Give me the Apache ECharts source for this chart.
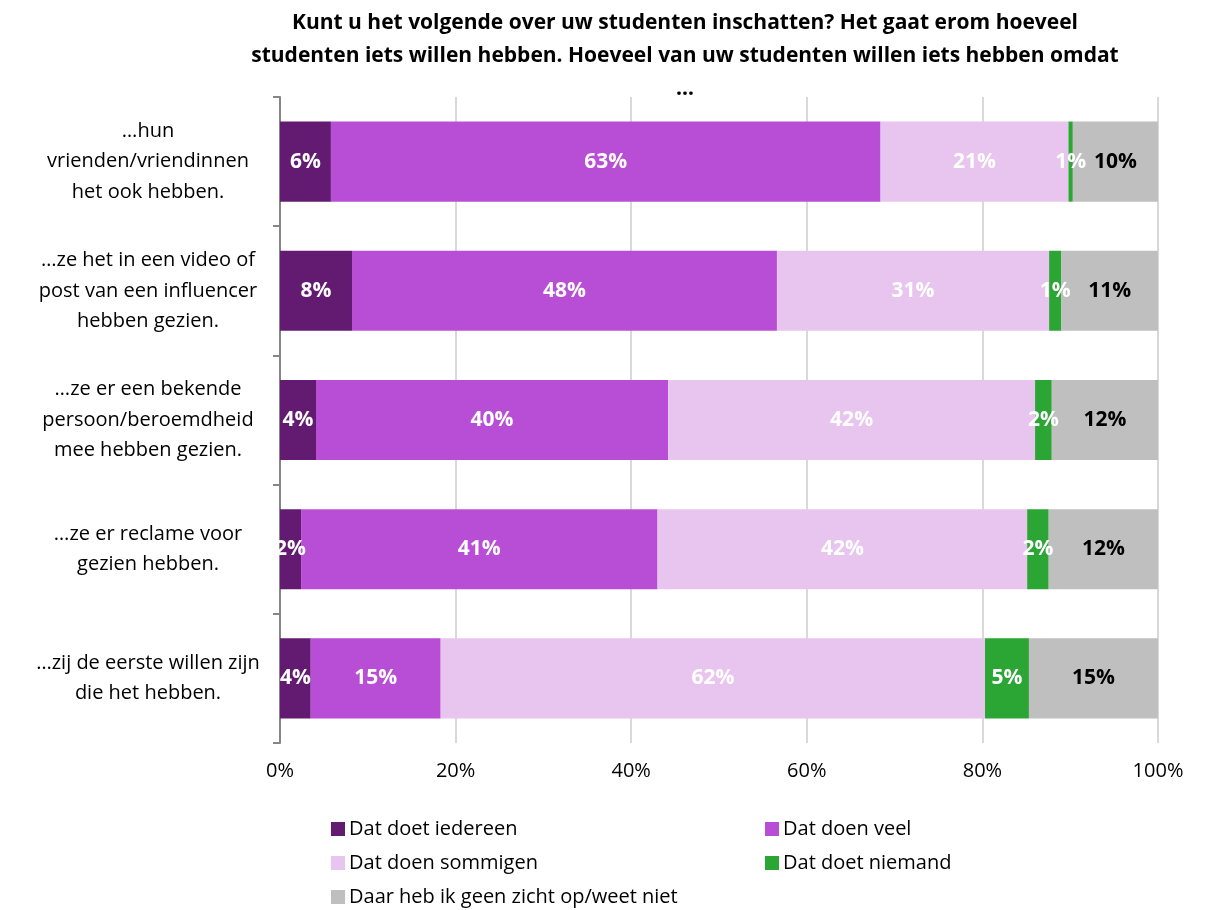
<!DOCTYPE html>
<html>
<head>
<meta charset="utf-8">
<script src="https://cdn.jsdelivr.net/npm/echarts@6/dist/echarts.min.js"></script>
<style>
  html, body { margin: 0; padding: 0; background: #fff; }
  #chart { width: 1209px; height: 910px; }
</style>
</head>
<body>
<div id="chart"></div>
<script>
// categories, top to bottom
var categories = [
  '…hun\nvrienden/vriendinnen\nhet ook hebben.',
  '…ze het in een video of\npost van een influencer\nhebben gezien.',
  '…ze er een bekende\npersoon/beroemdheid\nmee hebben gezien.',
  '…ze er reclame voor\ngezien hebben.',
  '…zij de eerste willen zijn\ndie het hebben.'
];

var seriesNames = [
  'Dat doet iedereen',
  'Dat doen veel',
  'Dat doen sommigen',
  'Dat doet niemand',
  'Daar heb ik geen zicht op/weet niet'
];

// percentages
var iedereen  = [5.8, 8.2, 4.1, 2.4, 3.5];
var veel      = [62.6, 48.4, 40.1, 40.6, 14.8];
var sommigen  = [21.4, 31.0, 41.8, 42.1, 62.0];
var niemand   = [0.5, 1.4, 1.9, 2.45, 5.0];
var weetNiet  = [9.7, 11.0, 12.1, 12.45, 14.7];

var xTicks = [0, 20, 40, 60, 80, 100];

var colors = ['#621B70', '#B94ED6', '#E8C5EF', '#2BA534', '#BFBFBF'];
var labelColors = ['#fff', '#fff', '#fff', '#fff', '#000'];
var font = '"Open Sans", "Noto Sans", sans-serif';

var chart = echarts.init(document.getElementById('chart'));

var allData = [iedereen, veel, sommigen, niemand, weetNiet];
var series = allData.map(function (d, i) {
  return {
    name: seriesNames[i],
    type: 'bar',
    stack: 'total',
    barWidth: '62%',
    data: d,
    itemStyle: { color: colors[i] },
    label: {
      show: true,
      position: 'inside',
      color: labelColors[i],
      fontFamily: font,
      fontWeight: 'bold',
      fontSize: 21,
      textBorderWidth: 0,
      formatter: function (p) { return Math.round(p.value) + '%'; }
    },
    emphasis: { disabled: true }
  };
});

// legend laid out in two columns, one component per entry
var legendPos = [
  { left: 326, top: 817 },
  { left: 760, top: 817 },
  { left: 326, top: 851 },
  { left: 760, top: 851 },
  { left: 326, top: 885 }
];
var legends = seriesNames.map(function (n, i) {
  return {
    data: [n],
    left: legendPos[i].left,
    top: legendPos[i].top,
    icon: 'rect',
    itemWidth: 14,
    itemHeight: 14,
    itemGap: 6,
    padding: [2, 5, 0, 5],
    selectedMode: false,
    textStyle: { fontFamily: font, fontSize: 20, color: '#000', padding: [0, 0, 0, -1] }
  };
});

chart.setOption({
  animation: false,
  backgroundColor: '#fff',
  title: {
    text: 'Kunt u het volgende over uw studenten inschatten? Het gaat erom hoeveel\nstudenten iets willen hebben. Hoeveel van uw studenten willen iets hebben omdat\n…',
    left: 680,
    top: 2,
    textAlign: 'center',
    textStyle: {
      fontFamily: font,
      fontWeight: 'bold',
      fontSize: 21,
      lineHeight: 33,
      color: '#000'
    }
  },
  legend: legends,
  grid: {
    left: 280,
    right: 51,
    top: 97,
    bottom: 167,
    containLabel: false
  },
  xAxis: {
    type: 'value',
    min: xTicks[0],
    max: xTicks[xTicks.length - 1],
    interval: 20,
    axisLine: { show: false },
    axisTick: { show: false },
    splitLine: { show: true, lineStyle: { color: '#D9D9D9', width: 2 } },
    axisLabel: {
      margin: 18,
      fontFamily: font,
      fontSize: 20,
      color: '#000',
      formatter: '{value}%'
    }
  },
  yAxis: {
    type: 'category',
    inverse: true,
    data: categories,
    axisLine: { show: true, lineStyle: { color: '#868686', width: 2 } },
    axisTick: { show: true, length: 7, lineStyle: { color: '#868686', width: 2 } },
    axisLabel: {
      margin: 132,
      align: 'center',
      fontFamily: font,
      fontSize: 20,
      lineHeight: 30.5,
      color: '#000'
    }
  },
  series: series
});
</script>
</body>
</html>
